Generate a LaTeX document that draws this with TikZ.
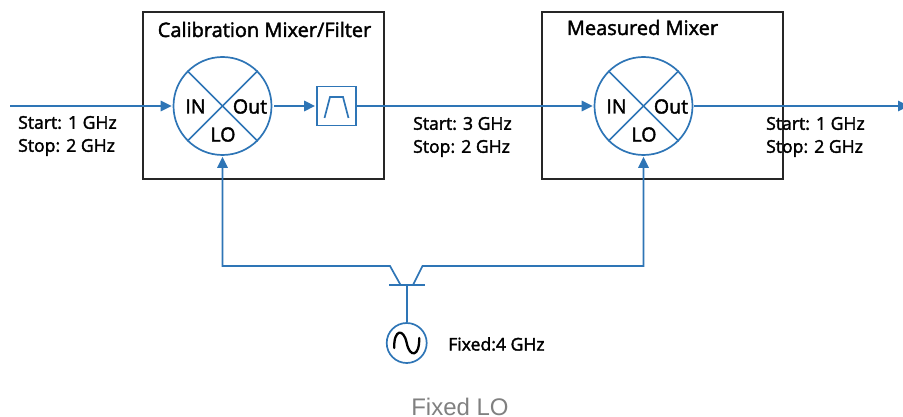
\documentclass[tikz,border=0pt]{standalone}
\usepackage{fontspec}
\setmainfont[FakeBold=2]{Open Sans}
\newfontfamily\capfont{Liberation Sans}
\usetikzlibrary{arrows.meta,calc}
\definecolor{linkblue}{HTML}{2E75B6}
\definecolor{boxedge}{HTML}{262626}
\definecolor{capgrey}{HTML}{808080}
\tikzset{
  x=1pt,y=-1pt,
  wire/.style={draw=linkblue,line width=1.7pt},
  arrowwire/.style={wire,-{Triangle[length=11pt,width=10.5pt]},shorten >=1pt},
  frame/.style={draw=boxedge,line width=1.9pt,minimum width=241pt,minimum height=167pt,inner sep=0pt},
  mixer/.style={circle,draw=linkblue,line width=1.7pt,minimum size=98pt,inner sep=0pt},
  filt/.style={draw=linkblue,line width=1.9pt,minimum width=39pt,minimum height=39pt,inner sep=0pt},
  osc/.style={circle,draw=linkblue,line width=1.7pt,minimum size=40pt,inner sep=0pt},
  txt/.style={font=\fontsize{17.6}{23}\selectfont,text=black,inner sep=0pt,align=left},
  port/.style={font=\fontsize{19.6}{20}\selectfont,text=black,inner sep=0pt},
  title/.style={font=\fontsize{20}{20}\selectfont,text=black,inner sep=0pt},
}
\begin{document}
\begin{tikzpicture}
\useasboundingbox (0,0) rectangle (903,417);
\node[frame] (calbox) at (263.5,95.5) {};
\node[frame] (mesbox) at (662.5,95.5) {};
\node[title] (caltitle) at (264.5,29.5) {Calibration Mixer/Filter};
\node[title] (mestitle) at (642.5,27.5) {Measured Mixer};
% mixers
\node[mixer] (m1) at (222.5,106) {};
\node[mixer] (m2) at (643.5,106) {};
\foreach \m in {m1,m2}{
  \draw[wire] (\m.north west) -- (\m.south east);
  \draw[wire] (\m.north east) -- (\m.south west);
}
\node[port] (m1in) at (195.5,106.5) {IN};
\node[port] (m1out) at (250,106.5) {Out};
\node[port] (m1lo) at (223,134.5) {LO};
\node[port] (m2in) at (616.5,106.5) {IN};
\node[port] (m2out) at (671,106.5) {Out};
\node[port] (m2lo) at (644,134.5) {LO};
% filter
\node[filt] (bp) at (336.5,106) {};
\draw[wire] ($(bp.center)+(-12,12)$) -- ($(bp.center)+(-6.5,-9)$) -- ($(bp.center)+(6.5,-9)$) -- ($(bp.center)+(12,12)$);
% signal path
\coordinate (src) at (10,106);
\coordinate (snk) at (909,106);
\draw[arrowwire] (src) -- (m1.west);
\draw[arrowwire] ([xshift=2pt]m1.east) -- (bp.west);
\draw[arrowwire] (bp.east) -- (m2.west);
\draw[arrowwire,shorten >=0pt] ([xshift=1pt]m2.east) -- (snk);
% LO
\node[osc] (lo) at (406.7,343) {};
\coordinate (barL) at (389,285);
\coordinate (barR) at (424.5,285);
\coordinate (barM) at (406.7,285);
\draw[wire] (barL) -- (barR);
\draw[wire] (lo.north) -- (barM);
\coordinate (c1) at (222.5,266);
\coordinate (c2) at (643.5,266);
\draw[arrowwire] (400.6,285) -- (390,266) -- (c1) -- (m1.south);
\draw[arrowwire] (413,285) -- (422.5,266) -- (c2) -- (m2.south);
\draw[line width=2.3pt,black,line cap=round] ($(lo.center)+(-12.5,5)$) .. controls ($(lo.center)+(-13,-14)$) and ($(lo.center)+(-3,-15)$) .. ($(lo.center)+(0,0)$) .. controls ($(lo.center)+(3,15)$) and ($(lo.center)+(13,14)$) .. ($(lo.center)+(12.5,-5)$);
% labels
\node[txt,anchor=west] (l1) at (18,136) {Start: 1 GHz\\Stop: 2 GHz};
\node[txt,anchor=west] (l2) at (413,137) {Start: 3 GHz\\Stop: 2 GHz};
\node[txt,anchor=west] (l3) at (766,137) {Start: 1 GHz\\Stop: 2 GHz};
\node[txt,anchor=west] (l4) at (448,344) {Fixed:4 GHz};
\node[inner sep=0pt,text=capgrey,font=\capfont\fontsize{24}{26}\selectfont] (cap) at (460,406.5) {Fixed LO};
\end{tikzpicture}
\end{document}
